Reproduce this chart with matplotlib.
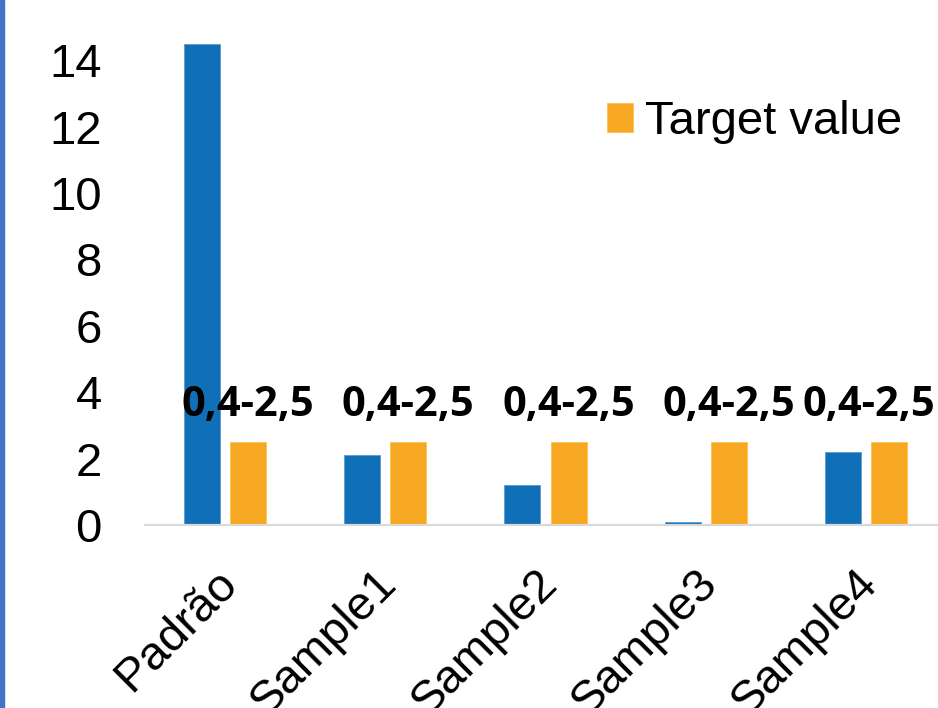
import numpy as np
import matplotlib
matplotlib.use("Agg")
import matplotlib.pyplot as plt
from matplotlib.patches import Rectangle
from matplotlib.transforms import ScaledTranslation

# data
categories = ["Padrão", "Sample1", "Sample2", "Sample3", "Sample4"]
measured = [14.5, 2.1, 1.2, 0.1, 2.2]
target = [2.5, 2.5, 2.5, 2.5, 2.5]
target_labels = ["0,4-2,5"] * 5
yticks = [0, 2, 4, 6, 8, 10, 12, 14]

blue = "#0F70B7"
orange = "#F7A823"

plt.rcParams["font.family"] = ["Liberation Sans", "DejaVu Sans"]

fig = plt.figure(figsize=(9.38, 7.08), dpi=100)
ax = fig.add_axes([145 / 938, 1 - 525 / 708, 1 - 145 / 938, (525 - 27) / 708])

x = np.arange(len(categories))
w = 0.225
off = 0.144
ax.bar(x - off, measured, w, color=blue, edgecolor="#5B9BD5", linewidth=0.6)
bars = ax.bar(x + off, target, w, color=orange, edgecolor="#FFC04D", linewidth=0.6,
              label="Target value")

labels = []
for b, lab in zip(bars, target_labels):
    t = ax.annotate(lab, (b.get_x() + b.get_width() / 2, b.get_height()),
                    xytext=(0, 26), textcoords="offset points", ha="center", va="center",
                    fontsize=30, fontweight="bold", family=["Open Sans", "DejaVu Sans"])
    labels.append(t)

ax.set_xlim(-0.5, 4.45)
ax.set_ylim(0, 15)
ax.set_yticks(yticks)
ax.set_yticklabels([str(t) for t in yticks], fontsize=34)
ax.tick_params(axis="y", length=0, pad=31)
ax.set_xticks(x)
ax.set_xticklabels(categories, fontsize=34, rotation=45, ha="right", va="center",
                   rotation_mode="anchor")
ax.tick_params(axis="x", length=0, pad=0)
shift = ScaledTranslation(5 / 100, -52 / 100, fig.dpi_scale_trans)
for t in ax.get_xticklabels():
    t.set_transform(t.get_transform() + shift)

for s in ["top", "right", "left"]:
    ax.spines[s].set_visible(False)
ax.spines["bottom"].set_color("#D9D9D9")
ax.spines["bottom"].set_linewidth(1.6)

leg = ax.legend(loc="upper left", frameon=False, fontsize=34, handlelength=0.55,
                handleheight=0.55, handletextpad=0.25, borderaxespad=0, borderpad=0)
leg.set_bbox_to_anchor((607 / 938, 1 - 100 / 708), transform=fig.transFigure)

fig.patches.append(Rectangle((0, 0), 4 / 938, 1, transform=fig.transFigure,
                             color="#4472C4", zorder=10))

# keep data labels inside the chart like excel does
fig.canvas.draw()
r = fig.canvas.get_renderer()
for t in labels:
    bb = t.get_window_extent(r)
    if bb.x1 > 935:
        t.set_position((-(bb.x1 - 935) * 72 / fig.dpi, 26))

fig.savefig("out.png", dpi=100)
